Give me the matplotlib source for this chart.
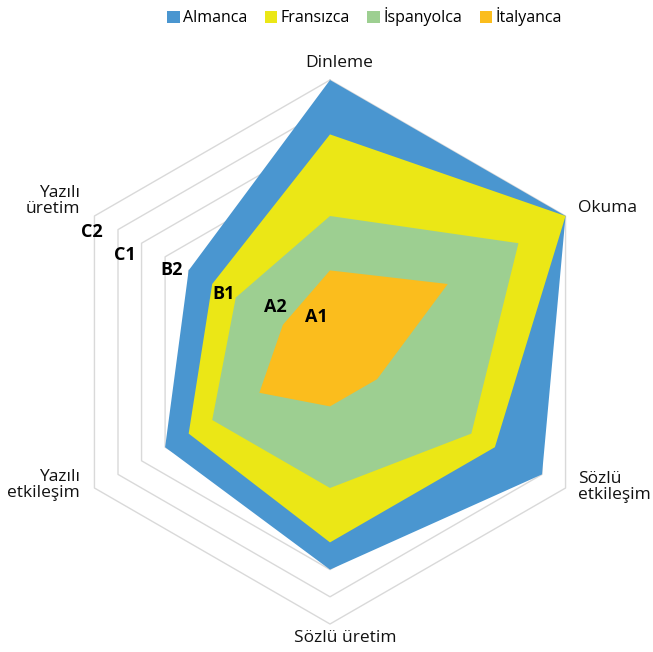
import matplotlib.pyplot as plt
import numpy as np
from matplotlib.patches import Patch

plt.rcParams['font.family'] = ['Open Sans', 'DejaVu Sans']

# Data
categories = ['Dinleme', 'Okuma', 'Sözlü\netkileşim', 'Sözlü üretim', 'Yazılı\netkileşim', 'Yazılı\nüretim']
series_names = ['Almanca', 'Fransızca', 'İspanyolca', 'İtalyanca']
almanca = [10, 10, 9, 8, 7, 6]
fransizca = [8, 10, 7, 7, 6, 5]
ispanyolca = [5, 8, 6, 5, 5, 4]
italyanca = [3, 5, 2, 2, 3, 2]
level_labels = ['C2', 'C1', 'B2', 'B1', 'A2', 'A1']
max_value = 10

colors = ['#4a96d0', '#ebe716', '#9dcf91', '#fbbd1d']

# pixel-ish layout: centre at (330, 352), 27.2 px per unit
W, H = 653, 652
cx, cy, unit = 330, 352, 27.2
fig = plt.figure(figsize=(W / 100, H / 100), dpi=100)
ax = fig.add_axes([0, 0, 1, 1])
ax.set_xlim(-cx / unit, (W - cx) / unit)
ax.set_ylim(-(H - cy) / unit, cy / unit)
ax.set_axis_off()

n = len(categories)
angles = np.pi / 2 - np.arange(n) * 2 * np.pi / n


def to_xy(values):
    v = np.asarray(values, dtype=float)
    x = v * np.cos(angles)
    y = v * np.sin(angles)
    return np.append(x, x[0]), np.append(y, y[0])


# hexagonal grid rings
for r in range(1, max_value + 1):
    gx, gy = to_xy([r] * n)
    ax.plot(gx, gy, color='#d9d9d9', lw=1.0, zorder=1)

# filled series
for vals, c in zip([almanca, fransizca, ispanyolca, italyanca], colors):
    px, py = to_xy(vals)
    ax.fill(px, py, color=c, lw=0, zorder=2)

# category labels
cat_pos = [(0.33, 10.62, 'center'), (9.12, 5.29, 'left'), (9.12, -4.95, 'left'),
           (0.55, -10.5, 'center'), (-9.19, -4.9, 'right'), (-9.19, 5.55, 'right')]
for lab, (tx, ty, ha) in zip(categories, cat_pos):
    ax.text(tx, ty, lab, ha=ha, va='center', fontsize=12.5, color='#111111',
            linespacing=0.98, zorder=5)

# level labels (CEFR)
lvl_pos = [(-8.75, 4.41), (-7.54, 3.57), (-5.81, 3.01), (-3.92, 2.13), (-2.02, 1.65), (-0.51, 1.29)]
for lab, (tx, ty) in zip(level_labels, lvl_pos):
    ax.text(tx, ty, lab, ha='center', va='center', fontsize=13, fontweight='bold',
            color='black', zorder=5)

handles = [Patch(facecolor=c, edgecolor='none') for c in colors]
fig.legend(handles, series_names, loc='center', bbox_to_anchor=(0.558, 0.974), ncol=4,
           frameon=False, fontsize=11.5, handlelength=0.8, handleheight=0.8,
           handletextpad=0.2, columnspacing=1.1)

fig.savefig('out.png', dpi=100)
